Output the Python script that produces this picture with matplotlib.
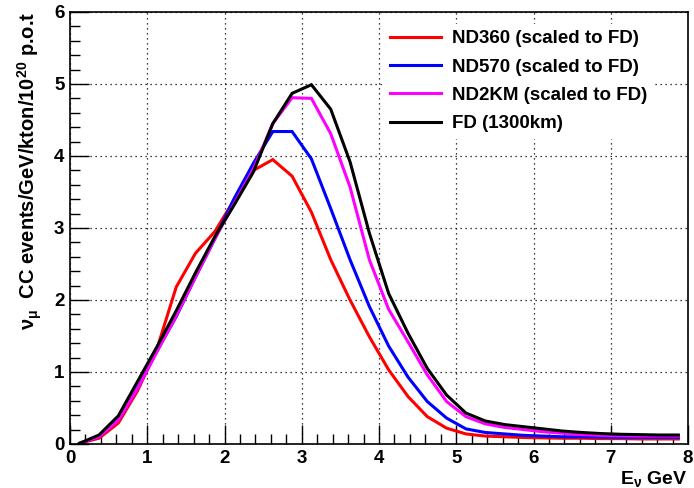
import matplotlib
matplotlib.use("Agg")
import matplotlib.pyplot as plt
from matplotlib.ticker import MultipleLocator
import numpy as np

energy = [0.125, 0.375, 0.625, 0.875, 1.125, 1.375, 1.625, 1.875, 2.125, 2.375,
          2.625, 2.875, 3.125, 3.375, 3.625, 3.875, 4.125, 4.375, 4.625, 4.875,
          5.125, 5.375, 5.625, 5.875, 6.125, 6.375, 6.625, 6.875, 7.125, 7.375,
          7.625, 7.875]

nd360 = [0.01, 0.08, 0.29, 0.74, 1.32, 2.18, 2.65, 2.95, 3.39, 3.80,
         3.95, 3.72, 3.22, 2.56, 2.00, 1.49, 1.03, 0.66, 0.38, 0.22,
         0.14, 0.11, 0.10, 0.09, 0.085, 0.08, 0.08, 0.075, 0.075, 0.07,
         0.07, 0.07]

nd570 = [0.01, 0.10, 0.33, 0.78, 1.29, 1.77, 2.32, 2.85, 3.41, 3.90,
         4.34, 4.34, 3.96, 3.27, 2.56, 1.91, 1.36, 0.93, 0.59, 0.36,
         0.21, 0.16, 0.14, 0.12, 0.11, 0.10, 0.10, 0.095, 0.09, 0.09,
         0.09, 0.09]

nd2km = [0.01, 0.10, 0.33, 0.77, 1.28, 1.78, 2.32, 2.85, 3.34, 3.82,
         4.45, 4.81, 4.80, 4.31, 3.57, 2.56, 1.87, 1.42, 0.96, 0.59,
         0.38, 0.28, 0.23, 0.20, 0.17, 0.15, 0.13, 0.12, 0.115, 0.11,
         0.11, 0.11]

fd = [0.01, 0.125, 0.39, 0.87, 1.35, 1.85, 2.38, 2.88, 3.32, 3.78,
      4.45, 4.87, 4.99, 4.65, 3.92, 2.93, 2.09, 1.54, 1.05, 0.68,
      0.43, 0.32, 0.27, 0.24, 0.21, 0.18, 0.16, 0.145, 0.135, 0.13,
      0.125, 0.125]

labels = ["ND360 (scaled to FD)", "ND570 (scaled to FD)",
          "ND2KM (scaled to FD)", "FD (1300km)"]
colors = ["#ff0000", "#0000ff", "#ff00ff", "#000000"]

plt.rcParams['font.family'] = ['Liberation Sans', 'DejaVu Sans']
plt.rcParams['font.weight'] = 'bold'
plt.rcParams['mathtext.fontset'] = 'custom'
plt.rcParams['mathtext.rm'] = 'Liberation Sans:bold'
plt.rcParams['mathtext.it'] = 'Liberation Sans:bold'

fig = plt.figure(figsize=(6.94, 4.88), dpi=100)
ax = fig.add_axes([70/694, 44/488, 618/694, 432/488])

for y, c, lab in zip([nd360, nd570, nd2km, fd], colors, labels):
    ax.plot(energy, y, color=c, lw=2.2, label=lab, solid_joinstyle='miter')

ax.set_xlim(0, 8)
ax.set_ylim(0, 6)
ax.xaxis.set_major_locator(MultipleLocator(1))
ax.xaxis.set_minor_locator(MultipleLocator(0.2))
ax.yaxis.set_major_locator(MultipleLocator(1))
ax.yaxis.set_minor_locator(MultipleLocator(0.2))
ax.tick_params(which='major', direction='in', length=14, width=1, labelsize=13.5, pad=4)
ax.tick_params(which='minor', direction='in', length=7, width=1)
ax.tick_params(top=False, right=False)
for lbl in ax.get_xticklabels() + ax.get_yticklabels():
    lbl.set_fontweight('bold')
ax.grid(True, which='major', linestyle=(0, (1, 3)), color='black', linewidth=0.9)
for s in ax.spines.values():
    s.set_linewidth(1.2)

ax.set_ylabel('ν$_{\\mathrm{μ}}$  CC events/GeV/kton/10$^{\\mathrm{20}}$ p.o.t', fontsize=14.5,
              fontweight='bold', loc='top', labelpad=7)
ax.set_xlabel('E$_{\\mathrm{ν}}$ GeV', fontsize=14, fontweight='bold', loc='right', labelpad=2)

leg = ax.legend(loc='upper left', bbox_to_anchor=(375/694, 1 - 15/488),
                bbox_transform=fig.transFigure, frameon=True, fancybox=False,
                edgecolor='white', facecolor='white', framealpha=1,
                prop={'weight': 'bold', 'size': 13.5}, handlelength=2.7,
                handletextpad=0.6, labelspacing=0.6, borderpad=0.3)

fig.savefig('out.png', dpi=100)
